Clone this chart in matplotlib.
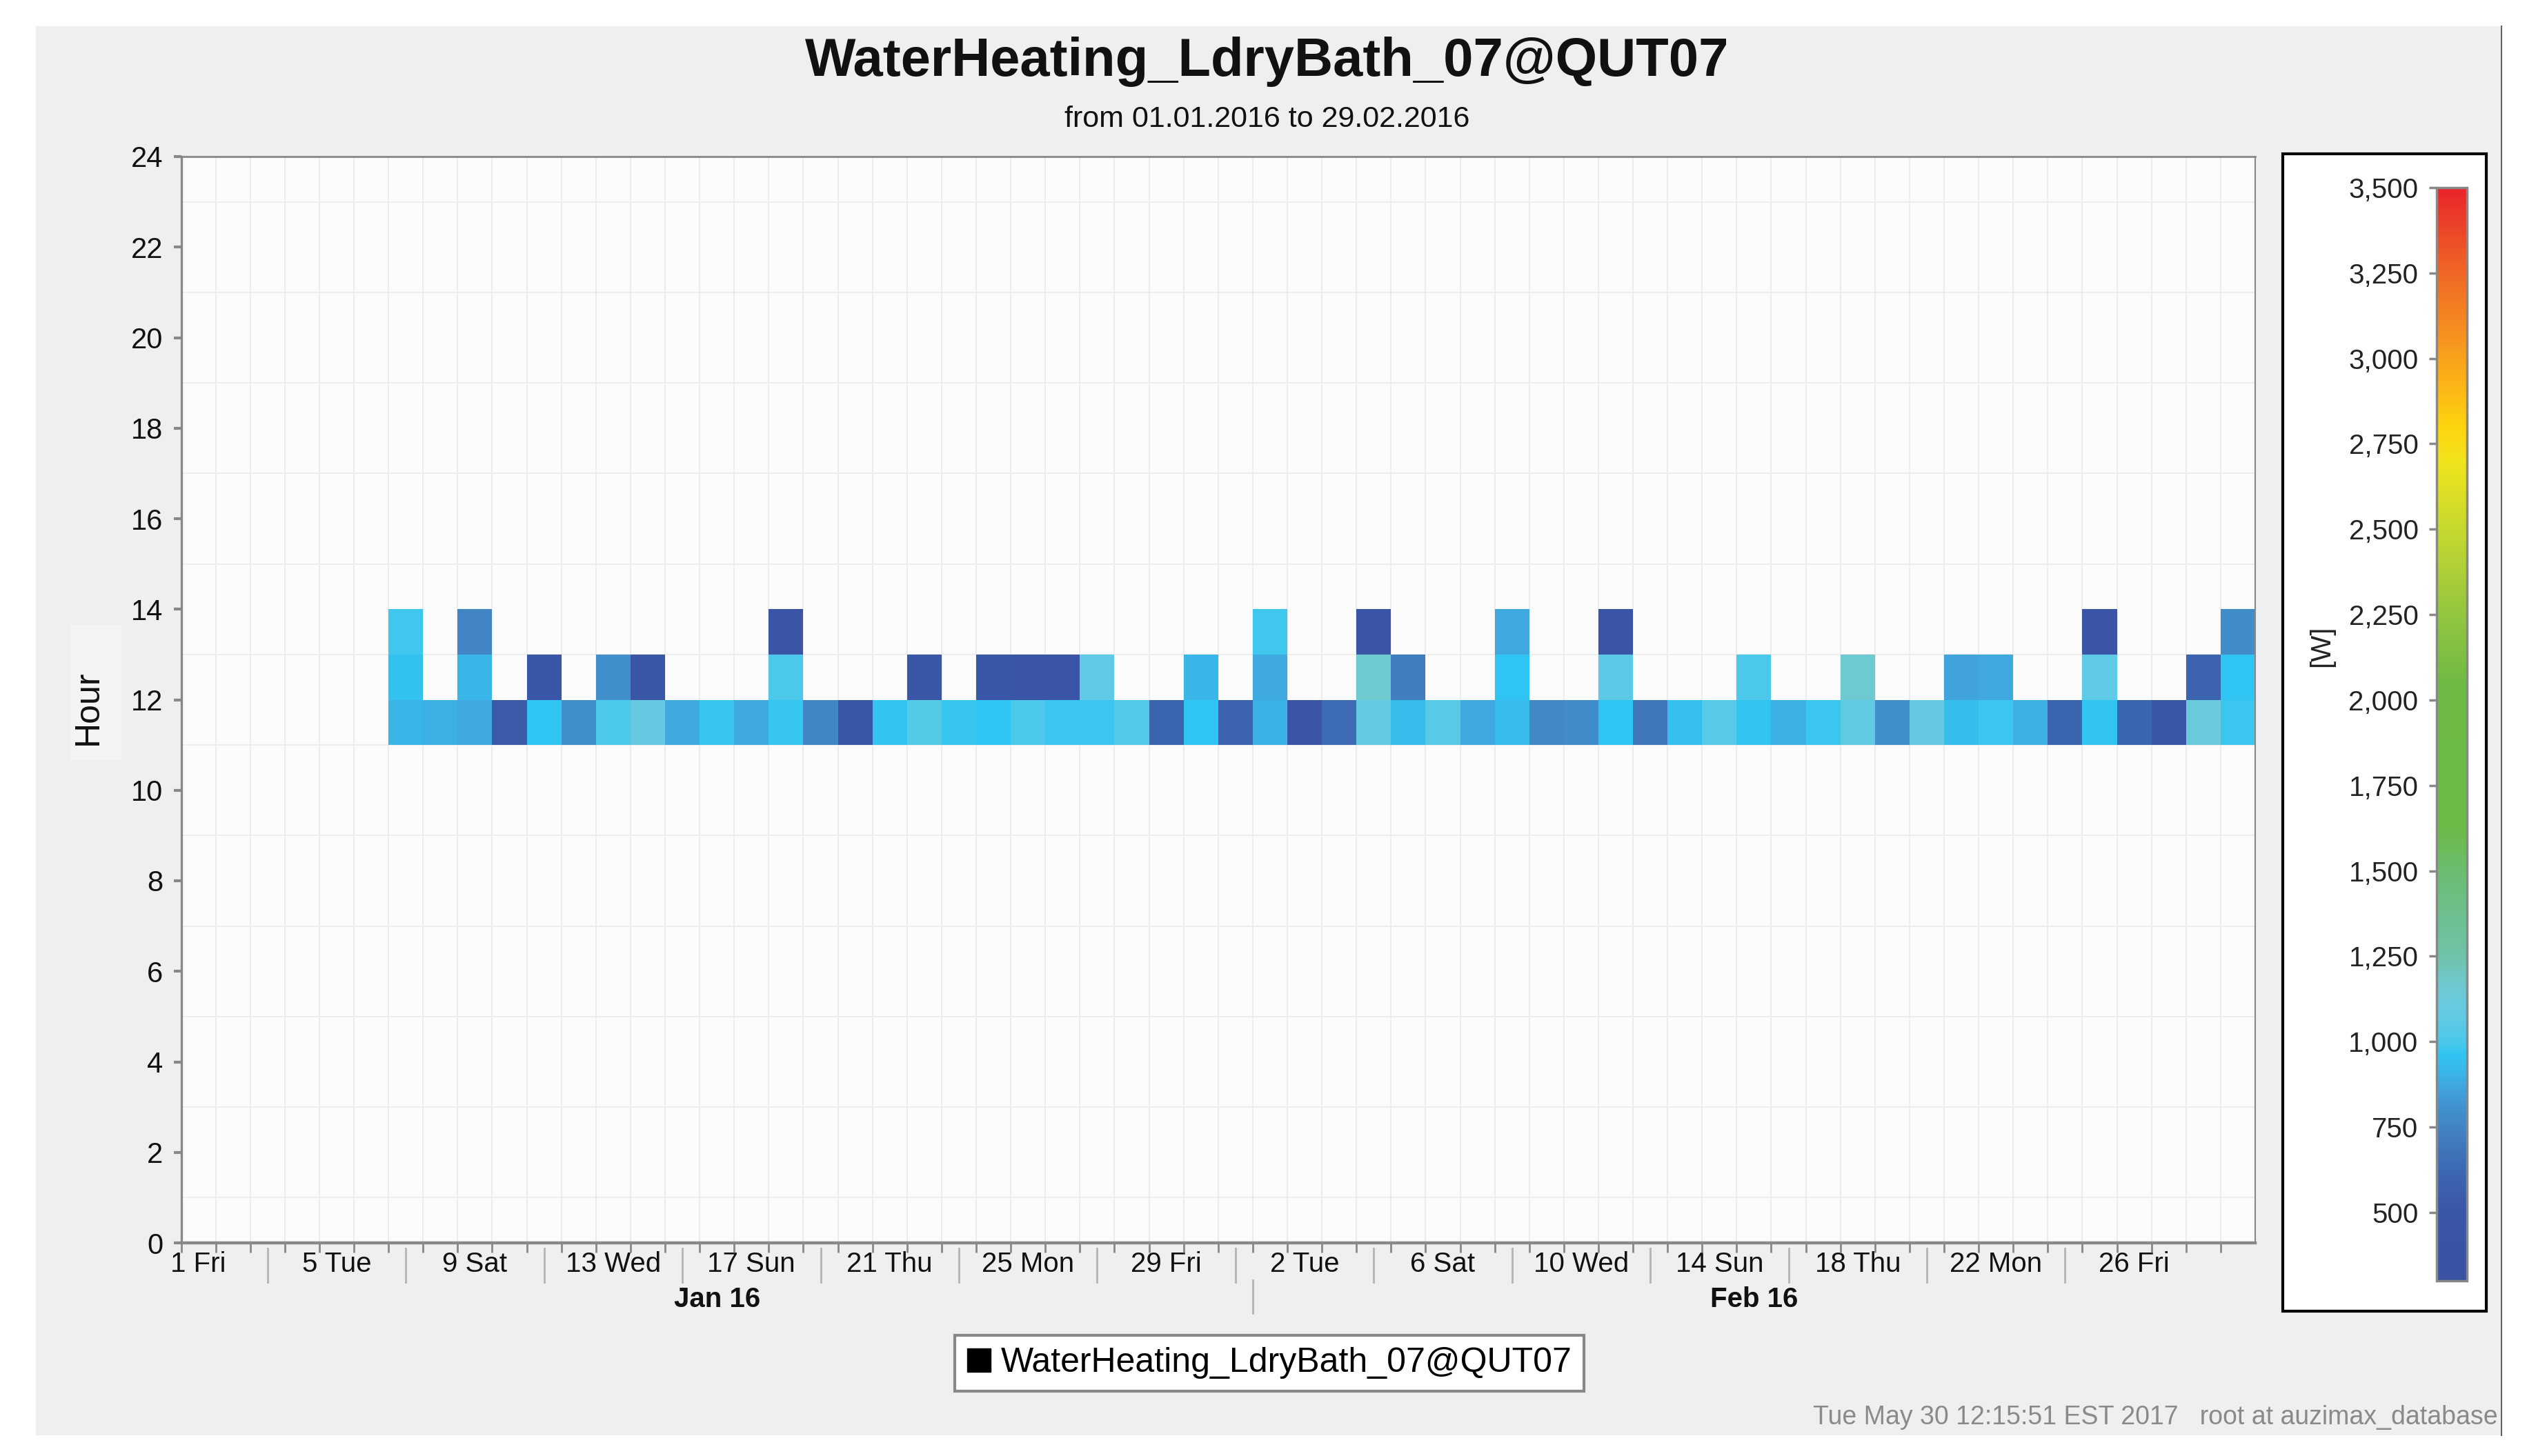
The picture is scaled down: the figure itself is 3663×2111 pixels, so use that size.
import numpy as np
import matplotlib
matplotlib.use("Agg")
import matplotlib.pyplot as plt
from matplotlib.colors import LinearSegmentedColormap, Normalize
from matplotlib.patches import Rectangle
from matplotlib.lines import Line2D
from matplotlib.ticker import FuncFormatter

plt.rcParams['font.family'] = ['Liberation Sans', 'DejaVu Sans']

# ---------------- data ----------------
title = "WaterHeating_LdryBath_07@QUT07"
subtitle = "from 01.01.2016 to 29.02.2016"
footer = "Tue May 30 12:15:51 EST 2017   root at auzimax_database"
n_days = 60  # 01.01.2016 .. 29.02.2016 (day index 0 = Jan 1)

# hour 11 row (day index 6 .. 59)
h11_days = list(range(6, 60))
h11_vals = [910, 890, 870, 540, 960, 800, 1000, 1090, 880, 970,
            880, 970, 760, 480, 965, 1030, 970, 960, 1000, 975,
            975, 1020, 610, 960, 600, 895, 470, 640, 1085, 930,
            1040, 870, 925, 770, 790, 960, 690, 940, 1040, 965,
            890, 975, 1070, 800, 1090, 935, 980, 890, 610, 965,
            610, 480, 1120, 975]
# hour 12 row
h12_days = [6, 8, 10, 12, 13, 17, 21, 23, 24, 25, 26, 29, 31,
            34, 35, 38, 41, 45, 48, 51, 52, 55, 58, 59]
h12_vals = [955, 910, 500, 800, 480, 1000, 480, 490, 470, 470, 1060, 910, 880,
            1160, 720, 960, 1050, 1005, 1160, 860, 870, 1060, 600, 960]
# hour 13 row
h13_days = [6, 8, 17, 31, 34, 38, 41, 55, 59]
h13_vals = [985, 750, 470, 985, 470, 870, 470, 470, 790]

tick_days = [0, 4, 8, 12, 16, 20, 24, 28, 32, 36, 40, 44, 48, 52, 56]
tick_labels = ["1 Fri", "5 Tue", "9 Sat", "13 Wed", "17 Sun", "21 Thu", "25 Mon",
               "29 Fri", "2 Tue", "6 Sat", "10 Wed", "14 Sun", "18 Thu", "22 Mon", "26 Fri"]
month_labels = ["Jan 16", "Feb 16"]
month_start = [0, 31]
month_len = [31, 29]
cbar_ticks = list(range(500, 3501, 250))
vmin, vmax = 300, 3500
cbar_label = "[W]"
y_label = "Hour"

# ---------------- colour scale ----------------
anchors = [(300, '#3a52a2'), (500, '#3a56a6'), (600, '#3c64ae'), (700, '#4079bd'),
           (750, '#4185c4'), (800, '#4190cc'), (850, '#41a0d9'), (900, '#3bb3e6'),
           (960, '#30c5f2'), (1000, '#4cc8eb'), (1050, '#5ccae6'), (1100, '#67cadf'),
           (1150, '#6ec9d4'), (1200, '#70c7c2'), (1250, '#6ec3a8'), (1400, '#6dbf88'),
           (1500, '#6bbd70'), (1620, '#6dba48'), (2050, '#6fba44'), (2250, '#93c63f'),
           (2500, '#c6d82f'), (2700, '#f0e41d'), (2800, '#fed40e'), (2950, '#fbae18'),
           (3100, '#f58b20'), (3300, '#ee5b26'), (3500, '#e8242a')]
cmap = LinearSegmentedColormap.from_list(
    'jfc', [((v - vmin) / (vmax - vmin), c) for v, c in anchors], N=512)
norm = Normalize(vmin=vmin, vmax=vmax)

grid = np.full((24, n_days), np.nan)
for h, ds, vs in [(11, h11_days, h11_vals), (12, h12_days, h12_vals), (13, h13_days, h13_vals)]:
    for d, v in zip(ds, vs):
        grid[h, d] = v

# ---------------- figure ----------------
W, H = 3663, 2111
fig = plt.figure(figsize=(W / 100, H / 100), dpi=100)
fig.patch.set_facecolor('white')

def fx(px):
    return px / W

def fy(py):
    return 1 - py / H

# grey panel
fig.add_artist(Rectangle((fx(52), fy(2081)), fx(3626) - fx(52), fy(38) - fy(2081),
                         transform=fig.transFigure, facecolor='#eeeff1',
                         edgecolor='none', zorder=-5))
fig.add_artist(Line2D([fx(3626), fx(3626)], [fy(38), fy(2081)], transform=fig.transFigure,
                      color='#666666', lw=1.5, zorder=-4))

# main axes
ax = fig.add_axes([fx(262.5), fy(1802), fx(3269) - fx(262.5), fy(227) - fy(1802)])
ax.set_facecolor('#fcfcfc')
ax.pcolormesh(np.arange(n_days + 1), np.arange(25), np.ma.masked_invalid(grid),
              cmap=cmap, norm=norm, edgecolors='none', antialiased=False, zorder=2)
ax.set_xlim(0, n_days)
ax.set_ylim(0, 24)

ax.set_yticks(range(0, 25, 2))
ax.set_yticks(range(25), minor=True)
ax.set_xticks(np.arange(n_days), minor=True)
ax.set_xticks(np.array(tick_days) + 0.5, tick_labels)
ax.grid(which='minor', color='#ececec', lw=1.3)
ax.set_axisbelow(True)

ax.tick_params(axis='x', which='major', length=0, pad=9, labelsize=29, labelcolor='#111111')
ax.tick_params(axis='x', which='minor', length=10, width=2, color='#888888')
ax.tick_params(axis='y', which='major', length=8, width=3, color='#888888',
               labelsize=30, pad=11, labelcolor='#111111')
ax.tick_params(axis='y', which='minor', length=0)

for side, lw in [('left', 2.4), ('bottom', 3.2), ('top', 2.0), ('right', 1.5)]:
    ax.spines[side].set_color('#888888')
    ax.spines[side].set_linewidth(lw)

xt = ax.get_xaxis_transform()
# separators between day labels
for d in tick_days[:-1]:
    x = d + 2.5
    ax.plot([x, x], [-0.005, -0.036], transform=xt, color='#b4b4b4', lw=2, clip_on=False)
# month labels and separators
for lab, s, n in zip(month_labels, month_start, month_len):
    ax.text(s + n / 2, -0.052, lab, transform=xt, ha='center', va='center',
            fontsize=29, fontweight='bold', color='#111111')
for s in month_start[1:]:
    ax.plot([s, s], [-0.034, -0.065], transform=xt, color='#b4b4b4', lw=2, clip_on=False)

# y label with light box
fig.add_artist(Rectangle((fx(102), fy(1102)), fx(176) - fx(102), fy(907) - fy(1102),
                         transform=fig.transFigure, facecolor='#f4f4f5', edgecolor='none',
                         zorder=-3))
fig.text(fx(128), fy(1026), y_label, rotation=90, ha='center', va='center',
         fontsize=36, color='#111111')

# titles
fig.text(fx(1837), fy(89), title, ha='center', va='center', fontsize=56,
         fontweight='bold', color='#111111')
fig.text(fx(1837), fy(173), subtitle, ha='center', va='center', fontsize=31, color='#111111')

# colour bar box and bar
fig.add_artist(Rectangle((fx(3309), fy(1901)), fx(3604) - fx(3309), fy(223) - fy(1901),
                         transform=fig.transFigure, facecolor='white', edgecolor='black',
                         lw=3, zorder=-2))
cax = fig.add_axes([fx(3532), fy(1857), fx(3576) - fx(3532), fy(272) - fy(1857)])
cb = fig.colorbar(plt.cm.ScalarMappable(norm=norm, cmap=cmap), cax=cax, ticks=cbar_ticks)
cb.outline.set_edgecolor('#888888')
cb.outline.set_linewidth(2.5)
cax.yaxis.set_ticks_position('left')
cax.yaxis.set_label_position('left')
cax.yaxis.set_major_formatter(FuncFormatter(lambda v, p: f"{int(v):,}"))
cax.tick_params(axis='y', which='major', length=8, width=2.5, color='#888888',
                labelsize=29, pad=11, labelcolor='#222222')
cax.minorticks_off()
fig.text(fx(3365), fy(937), cbar_label, rotation=90, ha='center', va='center',
         fontsize=29, color='#222222')

# legend
handle = Line2D([0], [0], marker='s', linestyle='none', markersize=24,
                markerfacecolor='black', markeredgecolor='black')
leg = fig.legend([handle], [title], loc='center', bbox_to_anchor=(fx(1840), fy(1976)),
                 frameon=True, fancybox=False, edgecolor='#888888', facecolor='white',
                 framealpha=1, fontsize=36, handlelength=0.7, handletextpad=0.3,
                 borderpad=0.35, borderaxespad=0)
leg.get_frame().set_linewidth(3)

# footer
fig.text(fx(3621), fy(2055), footer, ha='right', va='center', fontsize=27, color='#8a8a8a')

fig.savefig('out.png', dpi=100, facecolor=fig.get_facecolor())
